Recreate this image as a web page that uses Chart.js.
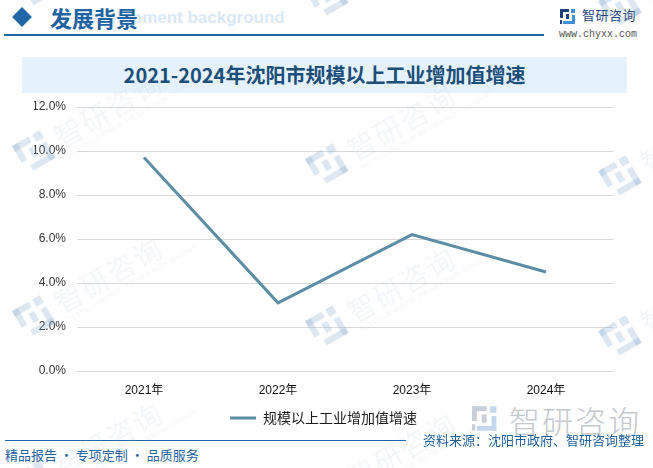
<!DOCTYPE html>
<html><head><meta charset="utf-8">
<script src="https://cdn.jsdelivr.net/npm/chart.js"></script>
<style>
html,body{margin:0;padding:0;}
body{width:653px;height:468px;position:relative;overflow:hidden;background:#fff;font-family:"Noto Sans CJK SC","Noto Sans",sans-serif;}
.abs{position:absolute;white-space:nowrap;}
.wm{position:absolute;white-space:nowrap;transform-origin:0 50%;transform:rotate(-30deg);color:rgba(165,185,210,0.12);pointer-events:none;z-index:5;}
.wm .t{font-size:28px;line-height:30px;letter-spacing:2px;display:inline-block;vertical-align:middle;}
.wm .s{font-family:"Liberation Sans",sans-serif;font-size:8px;position:absolute;left:44px;top:32px;letter-spacing:0.5px;}
.wm .ic{display:inline-block;width:34px;height:34px;vertical-align:middle;margin-right:8px;position:relative;}
#chartwrap{position:absolute;left:0;top:0;width:653px;height:468px;z-index:3;}
</style></head><body>

<!-- header -->
<div class="abs" style="left:76px;top:8px;font-family:'Liberation Sans',sans-serif;font-weight:bold;font-size:17px;color:#dbe8f5;z-index:1;">Development background</div>
<div class="abs" style="left:15px;top:10px;width:14px;height:14px;background:#1f67a6;transform:rotate(45deg);z-index:2;"></div>
<div class="abs" style="left:50px;top:3px;font-size:22px;line-height:28px;font-weight:bold;color:#2163a0;z-index:2;">发展背景</div>
<div class="abs" style="left:4px;top:34px;width:540px;height:2px;background:#1f67a6;"></div>

<!-- top right logo -->
<svg class="abs" style="left:560px;top:9px;z-index:2" width="16" height="15" viewBox="0 0 16 15">
  <rect x="0" y="0" width="9" height="3" fill="#1d3f7a"/>
  <rect x="0" y="0" width="3" height="9" fill="#1d3f7a"/>
  <rect x="6" y="5" width="3" height="5" fill="#1d3f7a"/>
  <rect x="11" y="0" width="4" height="4" fill="#3d8fd8"/>
  <rect x="3" y="12" width="12" height="3" fill="#3d8fd8"/>
  <rect x="12" y="6" width="3" height="9" fill="#3d8fd8"/>
  <rect x="0" y="11" width="2" height="4" fill="#1d3f7a"/>
</svg>
<div class="abs" style="left:582px;top:5px;font-size:13px;line-height:20px;color:#1d3f7a;letter-spacing:0.5px;">智研咨询</div>
<div class="abs" style="left:559px;top:29px;font-family:'Liberation Mono',monospace;font-size:10px;line-height:12px;color:#555;">www.chyxx.com</div>

<!-- title band -->
<div class="abs" style="left:22px;top:57px;width:605px;height:36px;background:#e6f2fb;"></div>
<div class="abs" style="left:22px;top:57px;width:605px;height:36px;line-height:36px;text-align:center;font-size:20px;font-weight:bold;color:#1b4f7a;z-index:2;">2021-2024年沈阳市规模以上工业增加值增速</div>

<!-- bottom right logo watermark -->
<svg class="abs" style="left:472px;top:405px;z-index:1" width="26" height="27" viewBox="0 0 16 15">
  <rect x="0" y="0" width="9" height="3" fill="#c9cfd8"/>
  <rect x="0" y="0" width="3" height="9" fill="#c9cfd8"/>
  <rect x="6" y="5" width="3" height="5" fill="#c9cfd8"/>
  <rect x="11" y="0" width="4" height="4" fill="#c3d8ee"/>
  <rect x="3" y="12" width="12" height="3" fill="#c3d8ee"/>
  <rect x="12" y="6" width="3" height="9" fill="#c3d8ee"/>
  <rect x="0" y="11" width="2" height="4" fill="#c9cfd8"/>
</svg>
<div class="abs" style="left:509px;top:400px;font-size:31px;line-height:40px;font-weight:300;color:#c4c8cf;letter-spacing:2px;z-index:1;">智研咨询</div>

<!-- footer -->
<div class="abs" style="left:5px;top:440px;width:401px;height:1px;background:#1f67a6;"></div>
<div class="abs" style="left:5px;top:446px;font-size:13px;line-height:18px;color:#1f5f9a;">精品报告 · 专项定制 · 品质服务</div>
<div class="abs" style="left:423px;top:431px;font-size:13px;line-height:18px;color:#1f5f9a;z-index:6;">资料来源：沈阳市政府、智研咨询整理</div>

<div id="chartwrap"><canvas id="c" width="653" height="468"></canvas></div>

<script>
// ---- data ----
const categories = ['2021年', '2022年', '2023年', '2024年'];
const growthRate = [9.7, 3.1, 6.2, 4.5];
const seriesName = '规模以上工业增加值增速';
const yTickLabels = ['0.0%', '2.0%', '4.0%', '6.0%', '8.0%', '10.0%', '12.0%'];

// ---- watermark tiles ----
const tilePos = [[20,-5],[313,5],[606,15],[20,160],[313,173],[606,185],[20,325],[313,335],[606,345],[20,490],[313,500]];
tilePos.forEach(p => {
  const d = document.createElement('div');
  d.className = 'wm';
  d.style.left = p[0] + 'px';
  d.style.top = (p[1] - 17) + 'px';
  d.innerHTML = '<span class="ic"><svg width="34" height="34" viewBox="0 0 16 15"><rect x="0" y="0" width="9" height="3" fill="rgba(120,160,200,0.25)"/><rect x="0" y="0" width="3" height="9" fill="rgba(120,160,200,0.25)"/><rect x="6" y="5" width="3" height="5" fill="rgba(120,160,200,0.25)"/><rect x="11" y="0" width="4" height="4" fill="rgba(120,160,200,0.25)"/><rect x="3" y="12" width="12" height="3" fill="rgba(120,160,200,0.25)"/><rect x="12" y="6" width="3" height="9" fill="rgba(120,160,200,0.25)"/></svg></span><span class="t">智研咨询</span><span class="s">INTELLIGENCE RESEARCH GROUP</span>';
  document.body.appendChild(d);
});

const lineColor = '#5b8ea6';
const fontFam = '"Liberation Sans", "Noto Sans CJK SC", sans-serif';

new Chart(document.getElementById('c'), {
  type: 'line',
  data: {
    labels: categories,
    datasets: [{
      label: seriesName,
      data: growthRate,
      borderColor: lineColor,
      backgroundColor: lineColor,
      borderWidth: 3,
      pointRadius: 0,
      pointHoverRadius: 0,
      tension: 0,
      fill: false
    }]
  },
  options: {
    responsive: false,
    animation: false,
    layout: { autoPadding: false, padding: { top: 107, left: 34, right: 40, bottom: 33 } },
    plugins: {
      tooltip: { enabled: false },
      legend: {
        position: 'bottom',
        labels: {
          boxWidth: 26,
          boxHeight: 3,
          padding: 10,
          color: '#1a1a1a',
          font: { size: 14, family: '"Noto Sans CJK SC", sans-serif' },
          generateLabels: (chart) => Chart.defaults.plugins.legend.labels.generateLabels(chart)
            .map(l => Object.assign({}, l, { lineWidth: 0, fillStyle: lineColor }))
        }
      }
    },
    scales: {
      x: {
        offset: true,
        grid: { display: false, drawTicks: false },
        border: { display: false },
        ticks: { color: '#111', padding: 12, font: { size: 12, family: fontFam } },
        afterFit: (s) => { s.height = 30; }
      },
      y: {
        min: 0,
        max: 12,
        grid: { color: '#d9d9d9', lineWidth: 1, drawTicks: false },
        border: { display: false },
        ticks: {
          stepSize: 2,
          padding: 11,
          color: '#333',
          font: { size: 12, family: fontFam },
          callback: (v, i) => yTickLabels[i]
        },
        afterFit: (s) => { s.width = 43; }
      }
    }
  }
});
</script>
</body></html>
